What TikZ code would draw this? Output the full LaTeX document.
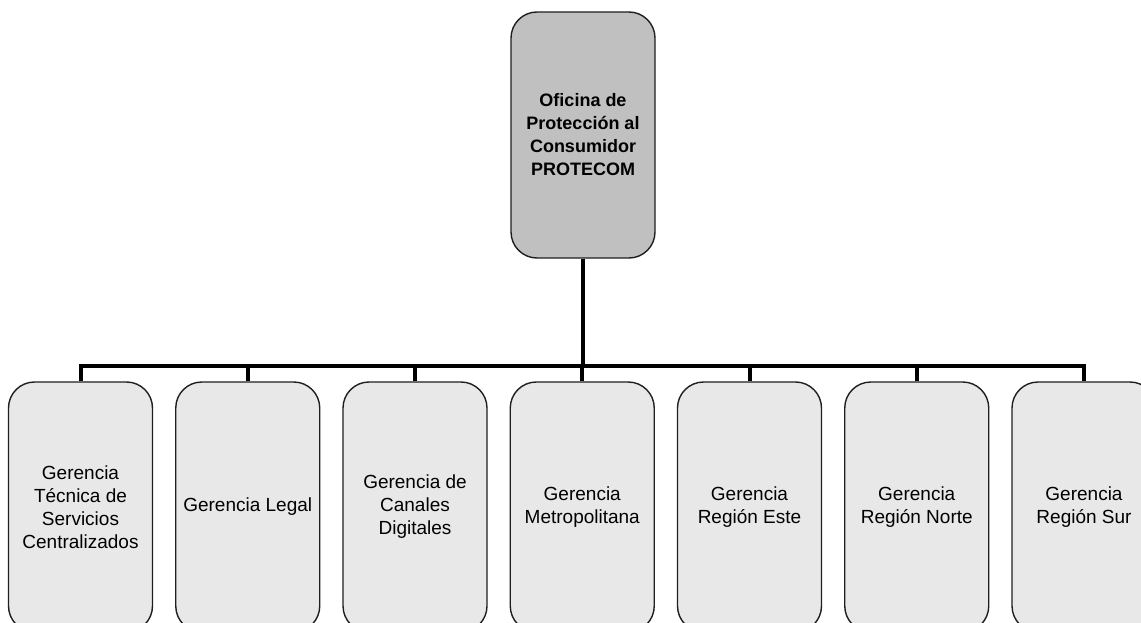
\documentclass[tikz,border=0pt]{standalone}
\usepackage{fontspec}
\setmainfont{Liberation Sans}
\usetikzlibrary{positioning}

\definecolor{headgray}{RGB}{192,192,192}
\definecolor{deptgray}{RGB}{232,232,232}

\tikzset{
  unit/.style={draw=black!88, line width=1.4pt, rounded corners=26pt,
    minimum width=144pt, minimum height=250pt, align=center, inner sep=2pt,
    font=\fontsize{19}{23}\selectfont},
  head/.style={unit, fill=headgray, minimum height=246pt,
    font=\fontsize{18}{23}\selectfont\bfseries},
  dept/.style={unit, fill=deptgray},
  link/.style={line width=4pt}
}

\begin{document}
\begin{tikzpicture}[x=1pt,y=-1pt]
\useasboundingbox (0,0) rectangle (1141,623);

% office on top
\node[head] (top) at (583,135) {Oficina de\\Protección al\\Consumidor\\PROTECOM};

% departments in one row
\foreach \i/\txt in {1/{Gerencia\\Técnica de\\Servicios\\Centralizados},
                     2/{Gerencia Legal},
                     3/{Gerencia de\\Canales\\Digitales},
                     4/{Gerencia\\Metropolitana},
                     5/{Gerencia\\Región Este},
                     6/{Gerencia\\Región Norte},
                     7/{Gerencia\\Región Sur}}
  \node[dept] (g\i) at ({80.5+167.25*(\i-1)},507) {\txt};

% bus line
\coordinate (bus) at (583,366);
\draw[link] (top.south) -- (bus);
\foreach \i in {1,...,7}
  \draw[link] (g\i.north) |- (bus);
\end{tikzpicture}
\end{document}
